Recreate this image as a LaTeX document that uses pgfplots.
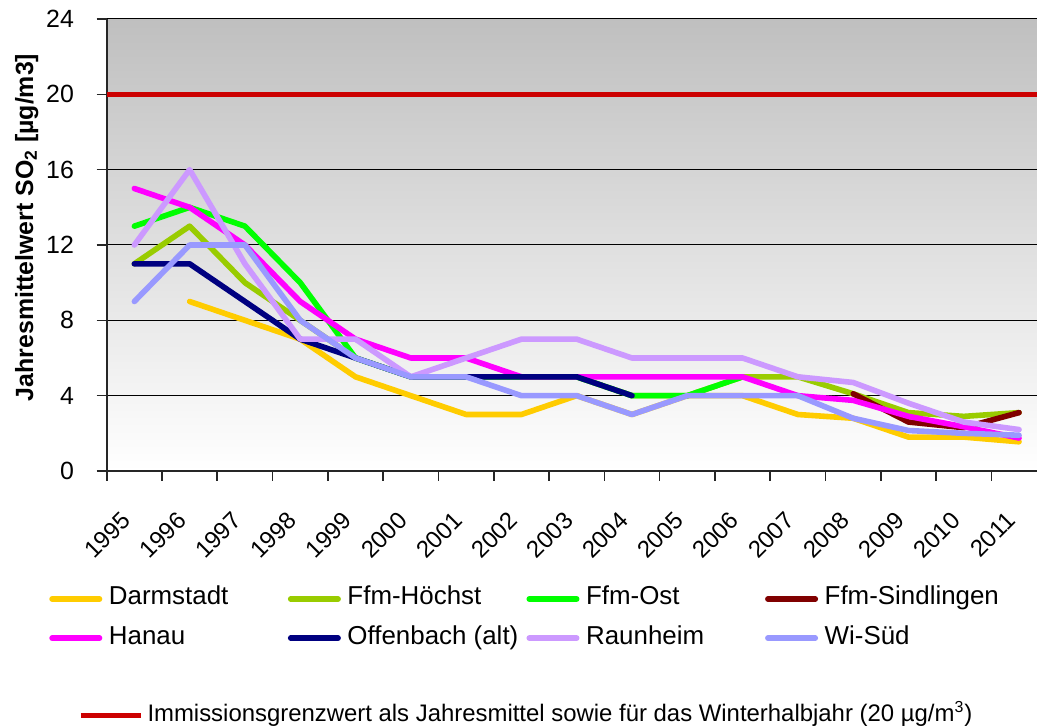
\documentclass[border=0pt]{standalone}
\usepackage{pgfplots}
\pgfplotsset{compat=1.18}
\usepackage{fontspec}
\setmainfont{Liberation Sans}
\definecolor{cDarm}{HTML}{FFCC00}
\definecolor{cHoe}{HTML}{99CC00}
\definecolor{cOst}{HTML}{00FF00}
\definecolor{cSind}{HTML}{800000}
\definecolor{cHanau}{HTML}{FF00FF}
\definecolor{cOff}{HTML}{000080}
\definecolor{cRaun}{HTML}{CC99FF}
\definecolor{cWi}{HTML}{9999FF}
\definecolor{cLimit}{HTML}{CC0000}
\begin{document}
\begin{tikzpicture}
\path[use as bounding box] (0,0) rectangle (518.5bp,363.5bp);
\begin{axis}[
  at={(53.35bp,128bp)}, anchor=south west,
  scale only axis, width=470bp, height=226bp,
  xmin=-0.5, xmax=16.5, ymin=0, ymax=24,
  axis x line*=bottom, axis y line*=left,
  axis line style={black!85, line width=0.8bp},
  axis background/.style={top color=black!25, bottom color=white},
  xtick={0,1,2,3,4,5,6,7,8,9,10,11,12,13,14,15,16},
  xticklabels={1995,1996,1997,1998,1999,2000,2001,2002,2003,2004,2005,2006,2007,2008,2009,2010,2011},
  minor xtick={-0.5,0.5,...,16.5},
  major x tick style={draw=none},
  ytick={0,4,8,12,16,20,24},
  tick align=outside,
  major tick length=5bp, minor tick length=5bp,
  tick style={black!85, line width=0.8bp},
  ymajorgrids,
  major grid style={black, line width=0.5bp},
  /pgf/number format/assume math mode=true,
  yticklabel style={anchor=east, inner sep=0pt, xshift=-11.2bp, font=\fontsize{12.5}{15}\selectfont},
  xticklabel style={inner sep=0pt, anchor=north east, xshift=-7bp, yshift=-14.5bp, rotate=45, font=\fontsize{12}{14}\selectfont},
  ylabel={\textbf{Jahresmittelwert SO\textsubscript{2} [µg/m3]}},
  every axis y label/.style={at={(rel axis cs:-0.0784,0.5387)}, rotate=90, anchor=base, inner sep=0pt, font=\fontsize{12.5}{15}\selectfont},
  every axis plot/.append style={line width=2.8bp, line join=round, line cap=round, mark=none},
  legend columns=4,
  legend cell align=left,
  legend style={at={(rel axis cs:-0.06106,-0.2633)}, anchor=north west, draw=none, fill=none,
    inner sep=0pt, outer sep=0pt, row sep=10.6bp,
    font=\fontsize{13}{15}\selectfont,
    nodes={inner sep=0pt, text height=0.75em, text depth=0.15em},
    /tikz/every odd column/.append style={column sep=3.3bp}},
  legend image code/.code={\path (0bp,0bp) -- (23.7bp,0bp); \draw[#1, line width=2.8bp, line cap=round] (1.4bp,0bp) -- (22.3bp,0bp);},
]
\addplot[cDarm] coordinates {(1,9) (2,8) (3,7) (4,5) (5,4) (6,3) (7,3) (8,4) (9,3) (10,4) (11,4) (12,3) (13,2.8) (14,1.8) (15,1.8) (16,1.55)};
\addlegendentry{\makebox[89.5bp][l]{Darmstadt}}
\addplot[cHoe] coordinates {(0,11) (1,13) (2,10) (3,8) (4,6) (5,5) (6,5) (7,5) (8,5) (9,4) (10,4) (11,5) (12,5) (13,4.1) (14,3.1) (15,2.9) (16,3.1)};
\addlegendentry{\makebox[89.5bp][l]{Ffm-Höchst}}
\addplot[cOst] coordinates {(0,13) (1,14) (2,13) (3,10) (4,6) (5,5) (6,5) (7,5) (8,5) (9,4) (10,4) (11,5)};
\addlegendentry{\makebox[89.5bp][l]{Ffm-Ost}}
\addplot[cSind] coordinates {(13,4.1) (14,2.6) (15,2.3) (16,3.1)};
\addlegendentry{\makebox[89.5bp][l]{Ffm-Sindlingen}}
\addplot[cHanau] coordinates {(0,15) (1,14) (2,12) (3,9) (4,7) (5,6) (6,6) (7,5) (8,5) (9,5) (10,5) (11,5) (12,4) (13,3.75) (14,2.9) (15,2.35) (16,1.75)};
\addlegendentry{\makebox[89.5bp][l]{Hanau}}
\addplot[cOff] coordinates {(0,11) (1,11) (2,9) (3,7) (4,6) (5,5) (6,5) (7,5) (8,5) (9,4)};
\addlegendentry{\makebox[89.5bp][l]{Offenbach (alt)}}
\addplot[cRaun] coordinates {(0,12) (1,16) (2,11) (3,7) (4,7) (5,5) (6,6) (7,7) (8,7) (9,6) (10,6) (11,6) (12,5) (13,4.7) (14,3.6) (15,2.6) (16,2.2)};
\addlegendentry{\makebox[89.5bp][l]{Raunheim}}
\addplot[cWi] coordinates {(0,9) (1,12) (2,12) (3,8) (4,6) (5,5) (6,5) (7,4) (8,4) (9,3) (10,4) (11,4) (12,4) (13,2.8) (14,2.15) (15,2.0) (16,1.9)};
\addlegendentry{\makebox[89.5bp][l]{Wi-Süd}}
\end{axis}
\begin{axis}[
  at={(53.35bp,128bp)}, anchor=south west,
  scale only axis, width=470bp, height=226bp,
  xmin=-0.5, xmax=16.5, ymin=0, ymax=24,
  hide axis,
  legend cell align=left,
  legend style={at={(rel axis cs:-0.03021,-0.5207)}, anchor=north west, draw=none, fill=none,
    inner sep=0pt, outer sep=0pt,
    font=\fontsize{12}{14}\selectfont,
    nodes={inner sep=0pt, text height=0.75em, text depth=0.15em},
    /tikz/every odd column/.append style={column sep=2bp}},
  legend image code/.code={\draw[#1, line width=2.6bp, line cap=butt] (0bp,0bp) -- (30bp,0bp);},
]
\addplot[cLimit, line width=2.6bp, mark=none] coordinates {(-0.5,20) (16.5,20)};
\addlegendentry{Immissionsgrenzwert als Jahresmittel sowie für das Winterhalbjahr (20 µg/m\textsuperscript{3})}
\end{axis}
\end{tikzpicture}
\end{document}
